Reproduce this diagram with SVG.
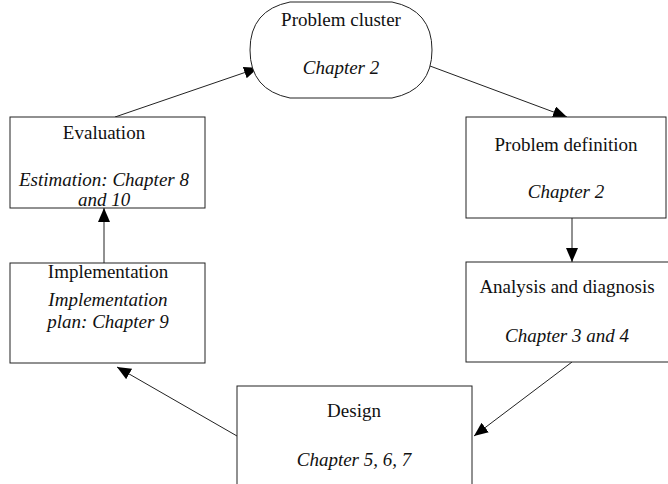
<svg xmlns="http://www.w3.org/2000/svg" width="668" height="484" viewBox="0 0 668 484">
<defs>
<marker id="ah" viewBox="0 0 14 12" refX="14" refY="6" markerWidth="14" markerHeight="12" markerUnits="userSpaceOnUse" orient="auto">
<path d="M0,0 L14,6 L0,12 Z" fill="#000"/>
</marker>
</defs>
<style>
.box{fill:#fff;stroke:#222;stroke-width:1}
.t{font-family:'Liberation Serif','Times New Roman','DejaVu Serif',serif;font-size:19px;fill:#111;text-anchor:middle}
.i{font-style:italic}
.c{stroke:#222;stroke-width:1;fill:none;marker-end:url(#ah)}
</style>
<rect width="668" height="484" fill="#fff"/>
<g id="connectors">
<line class="c" x1="115" y1="117" x2="258" y2="68"/>
<line class="c" x1="430" y1="66" x2="567" y2="117"/>
<line class="c" x1="572" y1="218" x2="572" y2="262"/>
<line class="c" x1="572" y1="362" x2="474" y2="436"/>
<line class="c" x1="237" y1="436" x2="117" y2="367"/>
<line class="c" x1="104" y1="263" x2="104" y2="208"/>
</g>
<g id="problem-cluster">
<path class="box" d="M290,2 L392,2 Q432,10 432,50 Q432,90 392,98 L290,98 Q250,90 250,50 Q250,10 290,2 Z"/>
<text class="t" x="341" y="26">Problem cluster</text>
<text class="t i" x="341" y="74">Chapter 2</text>
</g>
<g id="problem-definition">
<rect class="box" x="466" y="117" width="200" height="101"/>
<text class="t" x="566" y="151">Problem definition</text>
<text class="t i" x="566" y="198">Chapter 2</text>
</g>
<g id="analysis">
<rect class="box" x="466" y="262" width="204" height="100"/>
<text class="t" x="567" y="293">Analysis and diagnosis</text>
<text class="t i" x="567" y="342">Chapter 3 and  4</text>
</g>
<g id="design">
<rect class="box" x="237" y="386" width="235" height="110"/>
<text class="t" x="354" y="417">Design</text>
<text class="t i" x="354" y="466">Chapter 5, 6, 7</text>
</g>
<g id="implementation">
<rect class="box" x="10" y="263" width="195" height="100"/>
<text class="t" x="108" y="278">Implementation</text>
<text class="t i" x="108" y="306">Implementation</text>
<text class="t i" x="108" y="328">plan: Chapter 9</text>
</g>
<g id="evaluation">
<rect class="box" x="10" y="117" width="195" height="91"/>
<text class="t" x="104" y="139">Evaluation</text>
<text class="t i" x="104" y="186">Estimation: Chapter 8</text>
<text class="t i" x="104" y="206">and 10</text>
</g>
</svg>
